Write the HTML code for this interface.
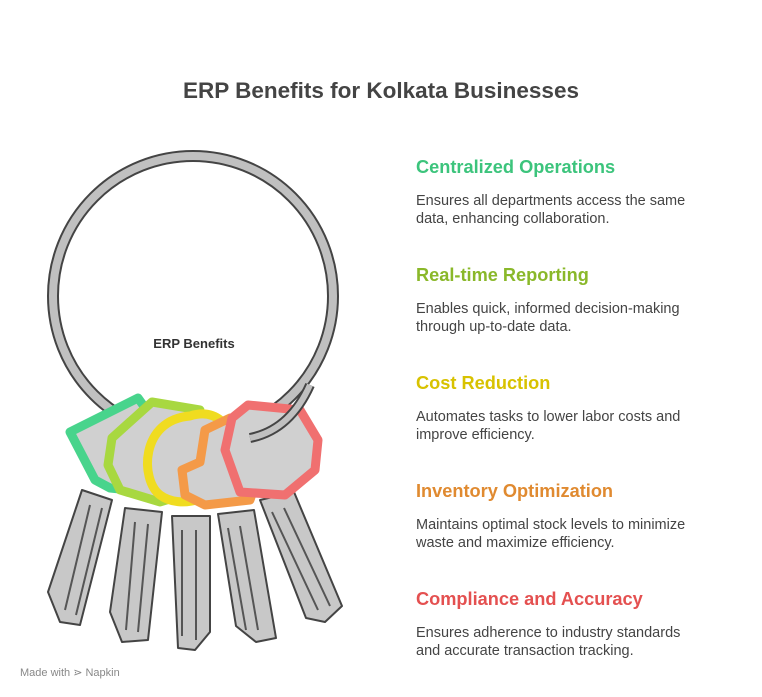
<!DOCTYPE html>
<html><head><style>
body{margin:0;width:762px;height:697px;background:#fff;font-family:"Liberation Sans",sans-serif;position:relative;overflow:hidden}
.t{position:absolute;left:0;width:762px;text-align:center;top:78px;font-size:22.5px;font-weight:bold;color:#444}
.h{position:absolute;left:416px;font-size:18.2px;font-weight:bold}
.p{position:absolute;left:416px;font-size:14.5px;color:#444;line-height:18px}
</style></head><body>
<div class="t">ERP Benefits for Kolkata Businesses</div>
<div class="h" style="top:157px;color:#3cc47c">Centralized Operations</div>
<div class="p" style="top:192px">Ensures all departments access the same<br>data, enhancing collaboration.</div>
<div class="h" style="top:265px;color:#8ab82a">Real-time Reporting</div>
<div class="p" style="top:300px">Enables quick, informed decision-making<br>through up-to-date data.</div>
<div class="h" style="top:373px;color:#d8c200">Cost Reduction</div>
<div class="p" style="top:408px">Automates tasks to lower labor costs and<br>improve efficiency.</div>
<div class="h" style="top:481px;color:#e08a30">Inventory Optimization</div>
<div class="p" style="top:516px">Maintains optimal stock levels to minimize<br>waste and maximize efficiency.</div>
<div class="h" style="top:589px;color:#e45050">Compliance and Accuracy</div>
<div class="p" style="top:624px">Ensures adherence to industry standards<br>and accurate transaction tracking.</div>
<div style="position:absolute;left:20px;top:666px;font-size:11px;color:#888">Made with ⋗ Napkin</div>
<svg width="762" height="697" style="position:absolute;left:0;top:0">
<g stroke="#444" stroke-width="2" stroke-linejoin="round" fill="#c8c8c8">
<path d="M82 490 L112 500 L80 625 L60 622 L48 592 Z"/>
<path d="M125 508 L162 512 L148 640 L122 642 L110 612 Z"/>
<path d="M172 516 L210 516 L210 632 L195 650 L178 648 Z"/>
<path d="M218 514 L254 510 L276 638 L256 642 L236 626 Z"/>
<path d="M260 500 L294 492 L342 606 L325 622 L306 618 Z"/>
</g>
<g fill="none" stroke="#555" stroke-width="2">
<path d="M90 505 L65 610 M102 508 L76 615"/><path d="M135 522 L126 630 M148 524 L138 632"/>
<path d="M182 530 L182 636 M196 530 L196 640"/><path d="M228 528 L246 630 M240 526 L258 630"/>
<path d="M272 512 L318 610 M284 508 L330 606"/>
</g>
<circle cx="193" cy="296" r="140" fill="none" stroke="#444" stroke-width="12"/>
<circle cx="193" cy="296" r="140" fill="none" stroke="#c0c0c0" stroke-width="8"/>
<text x="194" y="348" font-size="13" font-weight="bold" fill="#333" text-anchor="middle" font-family="Liberation Sans">ERP Benefits</text>
<g stroke-width="9" stroke-linejoin="round" fill="#d0d0d0">
<path d="M70 432 L138 398 L168 440 L150 492 L110 488 L95 480 Z" stroke="#48d48c"/>
<path d="M112 438 L152 402 L200 410 L200 490 L160 502 L120 490 L108 465 Z" stroke="#a8d840"/>
<path d="M190 416 C225 405 240 440 230 470 C220 500 180 510 160 495 C140 480 140 420 190 416 Z" stroke="#f0dc20"/>
<path d="M205 430 L230 418 L255 430 L260 470 L250 500 L205 505 L185 495 L182 470 L200 462 Z" stroke="#f49a48"/>
<path d="M232 418 L248 405 L300 410 L318 440 L315 470 L285 495 L240 492 L225 450 Z" stroke="#f07070"/>
</g>
<path d="M250 438 Q290 430 310 385" fill="none" stroke="#444" stroke-width="10"/>
<path d="M250 438 Q290 430 310 385" fill="none" stroke="#c0c0c0" stroke-width="6"/>
</svg>
</body></html>
